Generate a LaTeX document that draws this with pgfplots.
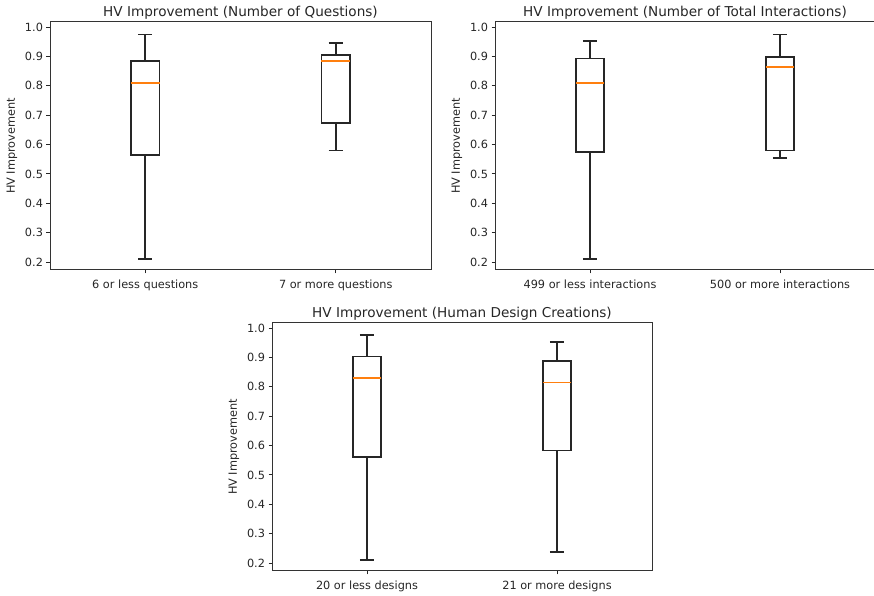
\documentclass[border=0pt]{standalone}
\usepackage{fontspec}
\setmainfont{DejaVu Sans}
\usepackage{pgfplots}
\pgfplotsset{compat=1.18}
\usepgfplotslibrary{statistics}

\definecolor{mplorange}{HTML}{FF7F0E}

\pgfplotsset{
  every axis title/.style={at={(0.5,1)}, anchor=base, inner sep=0pt, yshift=5pt},
  hvbox/.style={
    scale only axis,
    anchor=south west,
    xmin=0.5, xmax=2.5,
    ymin=0.173, ymax=1.017,
    xtick={1,2},
    ytick={0.2,0.3,0.4,0.5,0.6,0.7,0.8,0.9,1.0},
    yticklabel style={/pgf/number format/fixed, /pgf/number format/precision=1, /pgf/number format/fixed zerofill},
    /pgf/number format/assume math mode=true,
    tick label style={font=\fontsize{11.3}{13}\selectfont, text=black!85},
    xticklabel style={yshift=-3pt},
    tick align=outside, tick pos=left,
    major tick length=3.5pt,
    every tick/.style={black!85, line width=0.9pt},
    axis line style={black!80, line width=1pt},
    title style={font=\fontsize{13.6}{16}\selectfont, text=black!85},
    ylabel={HV Improvement},
    ylabel style={at={(axis description cs:-0.1,0.5)}, anchor=center, font=\fontsize{11.3}{13}\selectfont, text=black!85},
    boxplot/draw direction=y,
    boxplot/box extend=0.15,
    boxplot/whisker extend=0.075,
    boxplot/every median/.style={draw=mplorange, line width=1.5pt},
  },
  mybox/.style={boxplot prepared={#1}, draw=black!85, solid, line width=1.6pt, mark=none},
}

\begin{document}
\begin{tikzpicture}
\useasboundingbox (0,0) rectangle (874pt,596pt);

% top left
\begin{axis}[hvbox, at={(50pt,326pt)}, width=381pt, height=248pt,
  title={HV Improvement (Number of Questions)},
  xticklabels={6 or less questions, 7 or more questions}]
\addplot[mybox={draw position=1, lower whisker=0.21, lower quartile=0.565, median=0.81, upper quartile=0.885, upper whisker=0.975}] coordinates {};
\addplot[mybox={draw position=2, lower whisker=0.58, lower quartile=0.673, median=0.885, upper quartile=0.905, upper whisker=0.945}] coordinates {};
\end{axis}

% top right
\begin{axis}[hvbox, at={(495pt,326pt)}, width=380pt, height=248pt,
  title={HV Improvement (Number of Total Interactions)},
  xticklabels={499 or less interactions, 500 or more interactions}]
\addplot[mybox={draw position=1, lower whisker=0.21, lower quartile=0.575, median=0.81, upper quartile=0.893, upper whisker=0.953}] coordinates {};
\addplot[mybox={draw position=2, lower whisker=0.555, lower quartile=0.58, median=0.863, upper quartile=0.897, upper whisker=0.975}] coordinates {};
\end{axis}

% bottom
\begin{axis}[hvbox, at={(272pt,25pt)}, width=380pt, height=248pt,
  title={HV Improvement (Human Design Creations)},
  xticklabels={20 or less designs, 21 or more designs}]
\addplot[mybox={draw position=1, lower whisker=0.21, lower quartile=0.56, median=0.83, upper quartile=0.903, upper whisker=0.977}] coordinates {};
\addplot[mybox={draw position=2, lower whisker=0.237, lower quartile=0.583, median=0.815, upper quartile=0.888, upper whisker=0.953}] coordinates {};
\end{axis}
\end{tikzpicture}
\end{document}
